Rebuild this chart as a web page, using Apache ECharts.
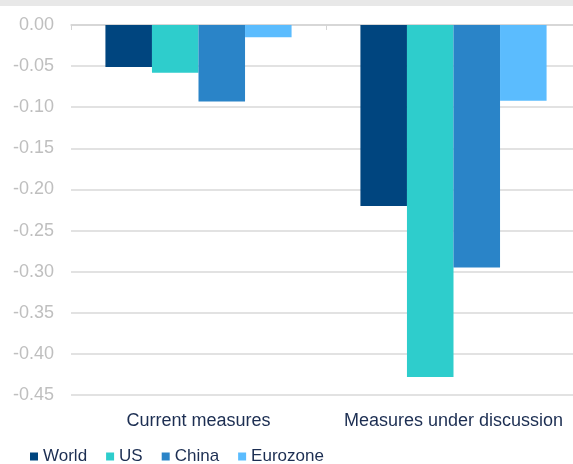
<!DOCTYPE html>
<html>
<head>
<meta charset="utf-8">
<script src="https://cdn.jsdelivr.net/npm/echarts@6/dist/echarts.min.js"></script>
<style>
	html, body { margin: 0; padding: 0; background: #fff; }
	#chart { width: 573px; height: 464px; }
</style>
</head>
<body>
<div id="chart"></div>
<script>
	// values
	var categories = ['Current measures', 'Measures under discussion'];
	var world = [-0.051, -0.220];
	var us = [-0.058, -0.428];
	var china = [-0.093, -0.295];
	var eurozone = [-0.015, -0.092];

	var colors = ['#00457f', '#2ecdcc', '#2a84c8', '#5bbcfe'];
	var font = 'Liberation Sans, Arial, sans-serif';

	var chart = echarts.init(document.getElementById('chart'));

	function bar(name, data, color) {
		return {
			name: name,
			type: 'bar',
			data: data,
			barGap: 0,
			barCategoryGap: '27%',
			itemStyle: { color: color }
		};
	}

	var option = {
		animation: false,
		graphic: [{
			type: 'rect',
			shape: { x: 0, y: 0, width: 573, height: 6 },
			style: { fill: '#e8e8e8' }
		}],
		grid: {
			left: 71,
			width: 510,
			top: 25,
			height: 370,
			outerBoundsMode: 'none'
		},
		legend: {
			left: 25,
			top: 443,
			itemWidth: 8,
			itemHeight: 8,
			itemGap: 19,
			icon: 'rect',
			textStyle: { color: '#1c2e52', fontSize: 17, fontFamily: font },
			data: ['World', 'US', 'China', 'Eurozone']
		},
		xAxis: [{
			type: 'category',
			data: categories,
			position: 'bottom',
			axisLine: { show: false },
			axisTick: { show: false },
			axisLabel: { color: '#1c2e52', fontSize: 18, fontFamily: font, margin: 17, interval: 0 }
		}, {
			type: 'category',
			data: categories,
			position: 'top',
			axisLine: { show: true, onZero: false, lineStyle: { color: '#d4d4d4', width: 1.5 } },
			axisTick: { show: true, inside: true, length: 5, lineStyle: { color: '#d4d4d4' } },
			axisLabel: { show: false }
		}],
		yAxis: {
			type: 'value',
			min: -0.45,
			max: 0,
			interval: 0.05,
			axisLine: { show: false },
			axisTick: { show: false },
			splitLine: { lineStyle: { color: '#d9d9d9', width: 1.5 } },
			axisLabel: {
				color: '#bfbfbf',
				fontSize: 18,
				fontFamily: font,
				margin: 17,
				formatter: function (v) { return v.toFixed(2); }
			}
		},
		series: [
			bar('World', world, colors[0]),
			bar('US', us, colors[1]),
			bar('China', china, colors[2]),
			bar('Eurozone', eurozone, colors[3])
		]
	};
	chart.setOption(option);
</script>
</body>
</html>
